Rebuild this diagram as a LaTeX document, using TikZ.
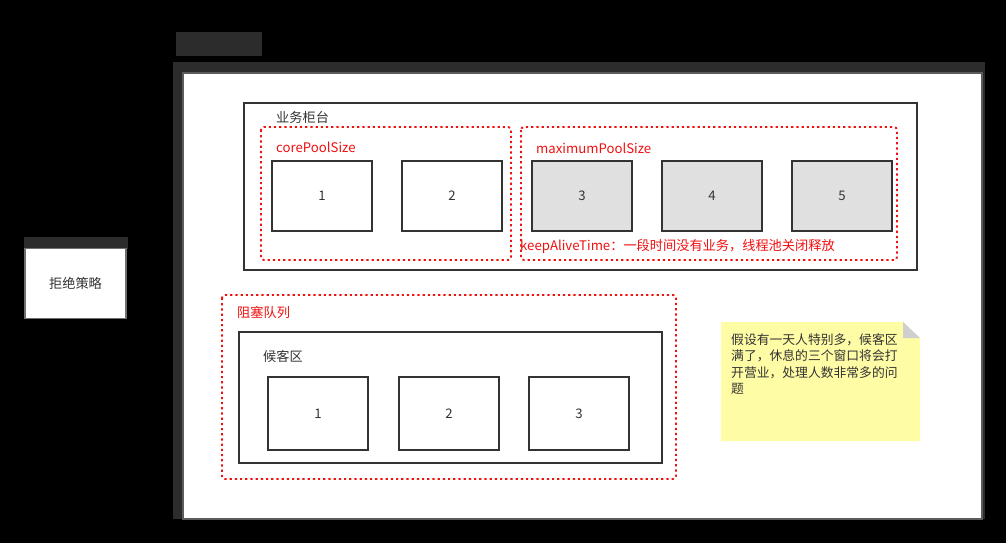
\documentclass[tikz,border=0pt]{standalone}
\usepackage{fontspec}
\newfontfamily\cjk{Noto Sans CJK SC}
\setmainfont{Noto Sans CJK SC}
\definecolor{ink}{HTML}{333333}
\definecolor{alert}{HTML}{F01010}
\definecolor{darkband}{HTML}{2C2C2C}
\definecolor{slot}{HTML}{E0E0E0}
\definecolor{memo}{HTML}{FFFCA6}
\definecolor{fold}{HTML}{CFCFCF}
\tikzset{
  every node/.style={font=\fontsize{13.2}{15}\selectfont, text=ink},
  box/.style={draw=ink, line width=1.6pt, fill=white, inner sep=0pt, rectangle},
  window/.style={box, minimum width=100pt, minimum height=70pt},
  busy/.style={window, fill=slot},
  group/.style={draw=alert, line width=1.9pt, dash pattern=on 2.2pt off 3pt, rounded corners=3pt},
  caption/.style={anchor=west, inner sep=0pt},
  redcap/.style={caption, text=alert},
}
\begin{document}
\begin{tikzpicture}[x=1pt, y=-1pt]
\useasboundingbox (0,0) rectangle (1006,543);
\fill[black] (0,0) rectangle (1006,543);

% title block and page frame
\fill[darkband] (176,32) rectangle (262,56);
\fill[darkband] (173,62) rectangle (985,519);
\draw[fill=white, draw=ink!80, line width=1.2pt] (183,73) rectangle (982,519);

% rejection policy box
\fill[darkband] (24,237) rectangle (128,249);
\node[draw=ink!70, line width=1.2pt, fill=white, minimum width=101pt, minimum height=70pt, inner sep=0pt] (reject) at (75.5,283.5) {拒绝策略};

% service counter
\node[box, minimum width=673pt, minimum height=167pt] (counter) at (580.5,186.5) {};
\node[caption] (counterlbl) at (276,117) {业务柜台};

\draw[group] (261,127) rectangle (511,260);
\node[redcap] (corelbl) at (276,147) {corePoolSize};
\draw[group] (521,127) rectangle (897,260);
\node[redcap] (maxlbl) at (536,148) {maximumPoolSize};

\node[window] (w1) at (322,196) {1};
\node[window] (w2) at (452,196) {2};
\node[busy] (w3) at (582,196) {3};
\node[busy] (w4) at (712,196) {4};
\node[busy] (w5) at (842,196) {5};

\node[redcap] (keepalive) at (520,246) {keepAliveTime：一段时间没有业务，线程池关闭释放};

% blocking queue
\draw[group] (222,295) rectangle (676,479);
\node[redcap] (queuelbl) at (237,312) {阻塞队列};
\node[box, minimum width=423pt, minimum height=131pt] (waiting) at (450.5,397.5) {};
\node[caption] (waitinglbl) at (263,356) {候客区};
\node[window, minimum height=73pt] (q1) at (318,413.5) {1};
\node[window, minimum height=73pt] (q2) at (449,413.5) {2};
\node[window, minimum height=73pt] (q3) at (579,413.5) {3};

% note
\fill[memo] (721,322) -- (903,322) -- (920,338) -- (920,441) -- (721,441) -- cycle;
\fill[fold] (903,322) -- (903,338) -- (920,338) -- cycle;
\node[anchor=north west, inner sep=0pt, align=left, font=\fontsize{12.8}{16.6}\selectfont] (note) at (731,333)
  {假设有一天人特别多，候客区\\满了，休息的三个窗口将会打\\开营业，处理人数非常多的问\\题};
\end{tikzpicture}
\end{document}
